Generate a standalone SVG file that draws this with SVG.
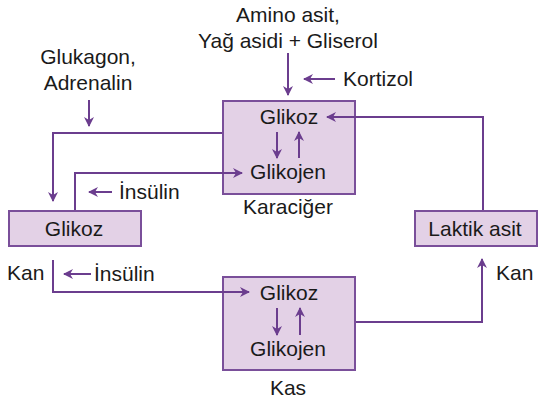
<svg xmlns="http://www.w3.org/2000/svg" width="547" height="400" viewBox="0 0 547 400">
<style>
text{font-family:"Liberation Sans",Arial,sans-serif;font-size:21px;fill:#1a1a1a}
.box{fill:#e3d1e6;stroke:#7a4f9a;stroke-width:2}
.ln{fill:none;stroke:#6b3d8e;stroke-width:2}
.mid{text-anchor:middle}
</style>
<defs>
<marker id="ah" viewBox="0 0 10 10" refX="9" refY="5" markerWidth="10" markerHeight="10" markerUnits="userSpaceOnUse" orient="auto">
<path d="M0,0 L10,5 L0,10 L3,5 Z" fill="#6b3d8e"/>
</marker>
</defs>
<rect width="547" height="400" fill="#ffffff"/>
<g id="sources">
<text class="mid" x="288" y="22">Amino asit,</text>
<text class="mid" x="288" y="48">Yağ asidi + Gliserol</text>
<text x="343" y="86">Kortizol</text>
<text class="mid" x="88" y="64">Glukagon,</text>
<text class="mid" x="88" y="90">Adrenalin</text>
<text x="119" y="199">İnsülin</text>
<text x="94" y="281">İnsülin</text>
</g>
<g id="liver">
<rect class="box" x="223" y="101" width="132" height="93"/>
<text class="mid" x="289" y="124">Glikoz</text>
<text class="mid" x="288" y="179">Glikojen</text>
<text class="mid" x="288" y="214">Karaciğer</text>
</g>
<g id="blood-glucose">
<rect class="box" x="9" y="211" width="132" height="35"/>
<text class="mid" x="74" y="236">Glikoz</text>
<text x="7" y="280">Kan</text>
</g>
<g id="lactic">
<rect class="box" x="415" y="211" width="122" height="35"/>
<text class="mid" x="475" y="236">Laktik asit</text>
<text x="496" y="280">Kan</text>
</g>
<g id="muscle">
<rect class="box" x="223" y="277" width="132" height="93"/>
<text class="mid" x="289" y="300">Glikoz</text>
<text class="mid" x="288" y="356">Glikojen</text>
<text class="mid" x="288" y="395">Kas</text>
</g>
<g id="connectors">
<path class="ln" d="M288,53 V95" marker-end="url(#ah)"/>
<path class="ln" d="M335,79 H304" marker-end="url(#ah)"/>
<path class="ln" d="M89,100 V126" marker-end="url(#ah)"/>
<path class="ln" d="M222,133 H53 V201" marker-end="url(#ah)"/>
<path class="ln" d="M75,210 V173 H242" marker-end="url(#ah)"/>
<path class="ln" d="M112,192 H89" marker-end="url(#ah)"/>
<path class="ln" d="M483,210 V117 H327" marker-end="url(#ah)"/>
<path class="ln" d="M277,132 V158" marker-end="url(#ah)"/>
<path class="ln" d="M299,158 V132" marker-end="url(#ah)"/>
<path class="ln" d="M53,260 V292 H249" marker-end="url(#ah)"/>
<path class="ln" d="M91,274 H64" marker-end="url(#ah)"/>
<path class="ln" d="M277,308 V335" marker-end="url(#ah)"/>
<path class="ln" d="M300,335 V308" marker-end="url(#ah)"/>
<path class="ln" d="M356,322 H482 V259" marker-end="url(#ah)"/>
</g>
</svg>
